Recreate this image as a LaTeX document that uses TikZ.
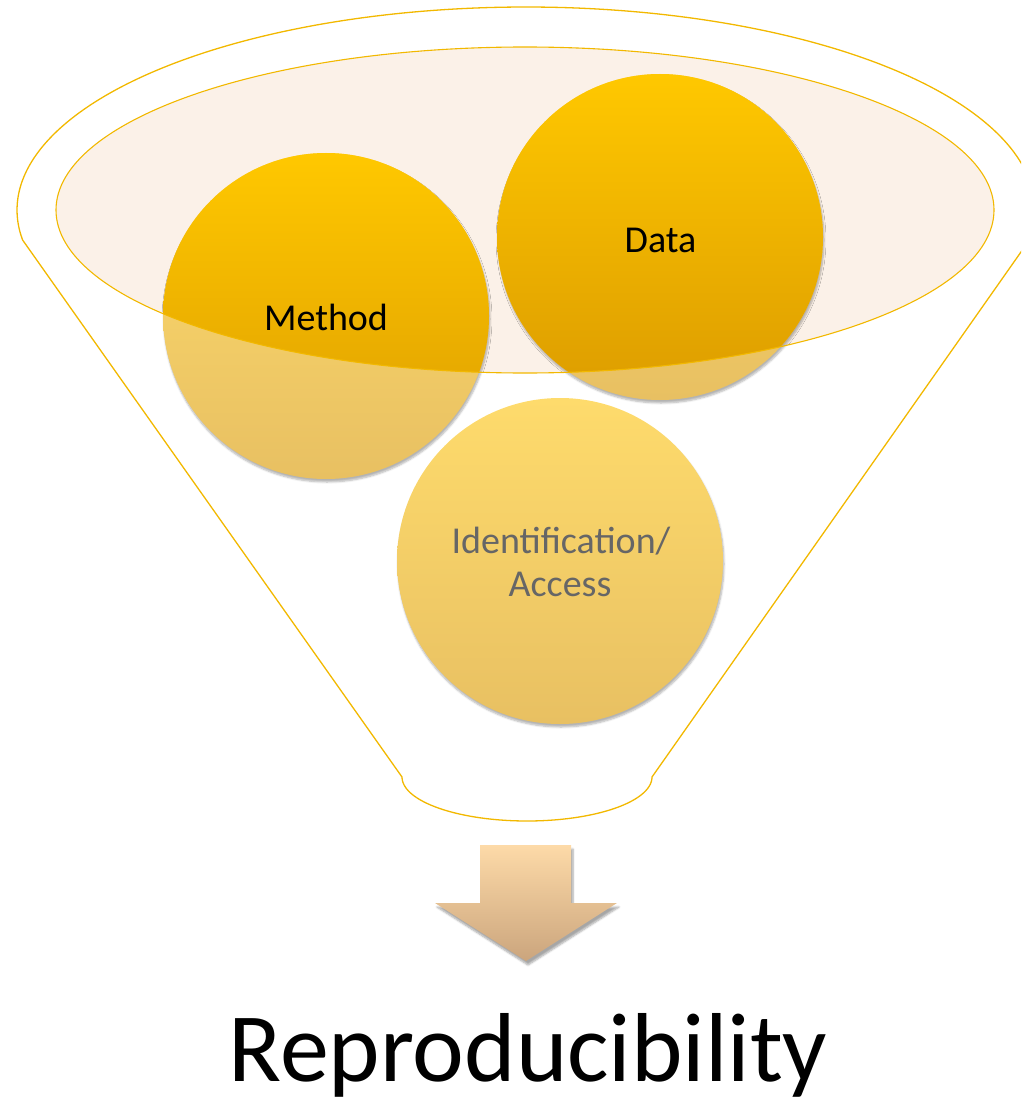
\documentclass[tikz,border=0pt]{standalone}
\usepackage{fontspec}
\setmainfont{Carlito}
\usetikzlibrary{shadows.blur}
\definecolor{funnelline}{HTML}{F2B800}
\definecolor{rimfill}{HTML}{FBF1E8}
\definecolor{satTop}{HTML}{FFC800}
\definecolor{satBot}{HTML}{DC9C00}
\definecolor{paleTop}{HTML}{FEDB6C}
\definecolor{paleBot}{HTML}{E8C062}
\definecolor{arrTop}{HTML}{FDDAA8}
\definecolor{arrBot}{HTML}{CBA57D}
\definecolor{idgray}{HTML}{666666}
\tikzset{
  funnel/.style={draw=funnelline, line width=1.3pt, line join=round},
  palecirc/.style={top color=paleTop, bottom color=paleBot, draw=none,
    blur shadow={shadow xshift=1pt, shadow yshift=-3pt, shadow blur steps=6, shadow opacity=30}},
  satcirc/.style={top color=satTop, bottom color=satBot, draw=none},
  lbl/.style={font=\fontsize{38}{43}\selectfont, anchor=base, inner sep=0pt},
}
\begin{document}
\begin{tikzpicture}[x=1pt,y=-1pt]
\useasboundingbox (0,0) rectangle (1021,1102);
\coordinate (cM) at (326,316);
\coordinate (cD) at (660,237);
\coordinate (cI) at (560,561);
\coordinate (rim) at (525,210);
\begin{scope}
  \clip (0,0) rectangle (1021,1102);
  % funnel outline
  \draw[funnel] (22.6,240)
    -- plot[domain=171.5:368.5, samples=120, smooth] ({526+509*cos(\x)}, {210+203*sin(\x)})
    -- (652,777)
    -- plot[domain=0:180, samples=60, smooth] ({527+125*cos(\x)}, {777+44*sin(\x)})
    -- cycle;
  % inner rim fill
  \fill[rimfill] (rim) ellipse [x radius=469pt, y radius=163pt];
  % pale circles
  \path[palecirc] (cM) circle [radius=163pt];
  \path[palecirc] (cD) circle [radius=163pt];
  \path[palecirc] (cI) circle [radius=163pt];
  % saturated parts inside rim
  \begin{scope}
    \clip (rim) ellipse [x radius=469pt, y radius=163pt];
    \path[satcirc] (cM) circle [radius=163pt];
    \path[satcirc] (cD) circle [radius=163pt];
  \end{scope}
  % rim outline
  \draw[funnelline, line width=1.1pt] (rim) ellipse [x radius=469pt, y radius=163pt];
  % arrow
  \path[top color=arrTop, bottom color=arrBot,
    blur shadow={shadow xshift=2pt, shadow yshift=-4pt, shadow blur steps=6, shadow opacity=35}]
    (480,845) -- (571,845) -- (571,903) -- (617,903) -- (526,961) -- (435,903) -- (480,903) -- cycle;
\end{scope}
% labels
\node[lbl] (method) at (326,330) {Method};
\node[lbl] (data) at (660.5,252) {Data};
\node[lbl, text=idgray] (ident1) at (561,553) {Identification/};
\node[lbl, text=idgray] (ident2) at (560,596) {Access};
\node[anchor=base, inner sep=0pt, font=\fontsize{98}{110}\selectfont] (result) at (528,1081) {Reproducibility};
\end{tikzpicture}
\end{document}
